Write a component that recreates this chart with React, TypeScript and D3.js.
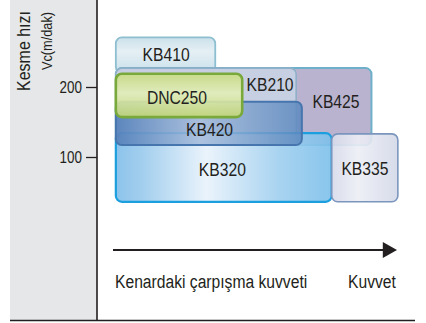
import * as d3 from "d3";
import { useEffect, useRef } from "react";

// grade names and their areas (x = edge impact force, relative 0..100; y = Vc m/dak)
const grades = ["KB410", "KB425", "KB210", "KB320", "KB335", "KB420", "DNC250"];
const forceFrom = [1, 1, 1, 1, 77, 1, 1];
const forceTo = [36, 91, 64.5, 77, 100.3, 66.5, 45.5];
const speedTop = [271, 227, 227, 134, 133, 179, 219];
const speedBottom = [220, 117, 117, 36, 36, 117, 157];
const labelForce = [18.7, 78.5, 55.3, 38.5, 88.7, 34, 22.5];
const labelSpeed = [246, 179, 203, 81, 83, 138.5, 184];
const speedTicks = [100, 200];

const yTitle = "Kesme hızı";
const yUnit = "Vc(m/dak)";
const xTitle = "Kenardaki çarpışma kuvveti";
const xEnd = "Kuvvet";

const W = 426;
const H = 323;
const font = "'Liberation Sans', Arial, sans-serif";
const squeeze = 0.87; // the source face is a condensed Helvetica

const looks: Record<string, { fill: string; stroke: string; sw: number }> = {
  KB410: { fill: "url(#g410)", stroke: "#8dbfd0", sw: 1.8 },
  KB425: { fill: "#b2abca", stroke: "#6eb0c9", sw: 2 },
  KB210: { fill: "#c9d1e3", stroke: "#8fb0c9", sw: 1.6 },
  KB320: { fill: "url(#g320)", stroke: "#1c9fdf", sw: 2.2 },
  KB335: { fill: "url(#g335)", stroke: "#7b95bd", sw: 1.6 },
  KB420: { fill: "url(#g420)", stroke: "#4776ae", sw: 2 },
  DNC250: { fill: "url(#g250)", stroke: "#79a93a", sw: 2.6 },
};

function Label(props: { x: number; y: number; size: number; anchor?: string; rotate?: number; sx?: number; central?: boolean; children: string }) {
  const { x, y, size, anchor = "start", rotate = 0, sx = squeeze, central } = props;
  return (
    <text
      transform={`translate(${x},${y}) rotate(${rotate}) scale(${sx},1)`}
      textAnchor={anchor}
      dominantBaseline={central ? "central" : undefined}
      fill="#231f20"
      style={{ fontFamily: font, fontSize: size }}
    >
      {props.children}
    </text>
  );
}

export default function App() {
  const axisRef = useRef<SVGGElement>(null);

  const x = d3.scaleLinear().domain([0, 100]).range([113, 397]);
  const y = d3.scaleLinear().domain([0, 300]).range([227, 17]);

  useEffect(() => {
    const g = d3.select(axisRef.current);
    g.selectAll("*").remove();
    g.call(d3.axisLeft(y).tickValues(speedTicks).tickSize(11) as any);
    g.select(".domain").remove();
    g.selectAll(".tick line").attr("stroke", "#231f20").attr("stroke-width", 1.3);
    g.selectAll(".tick text")
      .attr("fill", "#231f20")
      .attr("x", null)
      .attr("dy", "0.36em")
      .attr("transform", "translate(-15,0) scale(0.84,1)")
      .style("font-family", font)
      .style("font-size", "16px");
  }, []);

  return (
    <svg width={W} height={H} style={{ position: "absolute", left: 0, top: 0, background: "#fff" }}>
      <defs>
        <linearGradient id="g410" x1="0" y1="0" x2="0" y2="1">
          <stop offset="0" stopColor="#c5dde8" />
          <stop offset="0.4" stopColor="#e2eef3" />
          <stop offset="1" stopColor="#c4dce8" />
        </linearGradient>
        <linearGradient id="g320" x1="0" y1="0" x2="1" y2="0">
          <stop offset="0" stopColor="#80bde9" />
          <stop offset="0.12" stopColor="#98c9ec" />
          <stop offset="0.42" stopColor="#e8f2fb" />
          <stop offset="0.75" stopColor="#a0cfef" />
          <stop offset="1" stopColor="#7cbfea" />
        </linearGradient>
        <linearGradient id="g335" x1="0" y1="0" x2="1" y2="0">
          <stop offset="0" stopColor="#d6daea" />
          <stop offset="0.4" stopColor="#eceef5" />
          <stop offset="1" stopColor="#d3d8e8" />
        </linearGradient>
        <linearGradient id="g420" x1="0" y1="0" x2="1" y2="0">
          <stop offset="0" stopColor="#5682bb" stopOpacity="0.95" />
          <stop offset="0.45" stopColor="#a3bbdb" stopOpacity="0.85" />
          <stop offset="1" stopColor="#5b88be" stopOpacity="0.85" />
        </linearGradient>
        <linearGradient id="g250" x1="0" y1="0" x2="0" y2="1">
          <stop offset="0" stopColor="#c8dc80" />
          <stop offset="0.45" stopColor="#e3eeb8" />
          <stop offset="1" stopColor="#c3d775" />
        </linearGradient>
      </defs>

      {/* grey title panel and frame */}
      <rect x={10} y={0} width={87} height={320} fill="#e6e7e8" />
      <line x1={97} x2={97} y1={0} y2={320} stroke="#231f20" strokeWidth={1.6} />
      <line x1={10} x2={415} y1={320.5} y2={320.5} stroke="#231f20" strokeWidth={1.6} />

      <Label x={30} y={51} size={19} anchor="middle" rotate={-90} sx={0.84}>{yTitle}</Label>
      <Label x={52} y={41} size={15} anchor="middle" rotate={-90} sx={0.85}>{yUnit}</Label>

      <g ref={axisRef} transform="translate(97,0)" />

      {/* grade areas */}
      {grades.map((name, i) => {
        const lk = looks[name];
        return (
          <rect
            key={name}
            x={x(forceFrom[i])}
            y={y(speedTop[i])}
            width={x(forceTo[i]) - x(forceFrom[i])}
            height={y(speedBottom[i]) - y(speedTop[i])}
            rx={6}
            fill={lk.fill}
            fillOpacity={name === "KB420" ? 1 : 0.9}
            stroke={lk.stroke}
            strokeWidth={lk.sw}
          />
        );
      })}
      {grades.map((name, i) => (
        <Label key={name + "t"} x={x(labelForce[i])} y={y(labelSpeed[i])} size={18} anchor="middle" central>
          {name}
        </Label>
      ))}

      {/* force arrow */}
      <line x1={x(0)} x2={x(96)} y1={250} y2={250} stroke="#231f20" strokeWidth={2} />
      <path d={`M${x(95)},242 L${x(100)},250 L${x(95)},258 Z`} fill="#231f20" />
      <Label x={115} y={288} size={18}>{xTitle}</Label>
      <Label x={372} y={288} size={18} anchor="middle">{xEnd}</Label>
    </svg>
  );
}
